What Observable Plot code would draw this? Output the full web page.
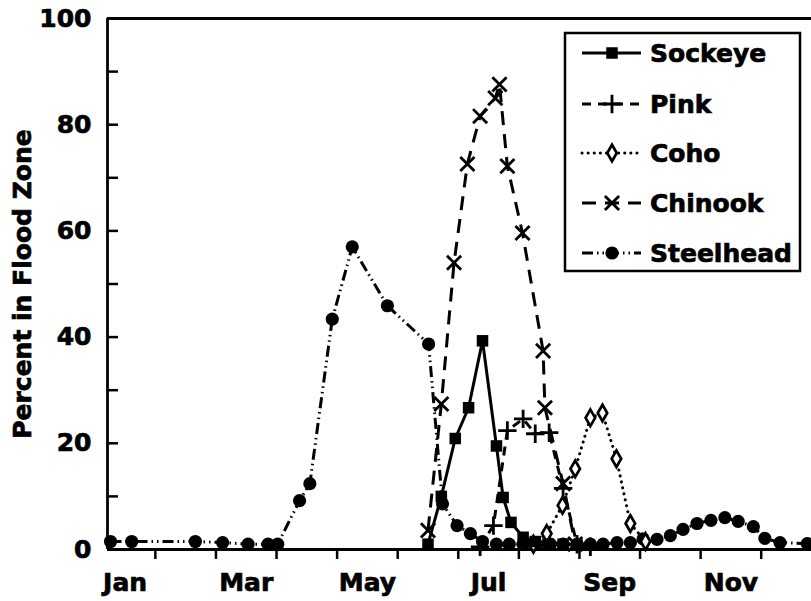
<!DOCTYPE html>
<html>
<head>
<meta charset="utf-8">
<script src="https://cdn.jsdelivr.net/npm/d3@7"></script>
<script src="https://cdn.jsdelivr.net/npm/@observablehq/plot@0.6"></script>
<style>
  html, body { margin: 0; padding: 0; background: #fff; }
  #chart { width: 811px; height: 601px; }
  /* heavier lettering for all labels */
  #chart svg text { stroke: black; stroke-width: 0.7px; }
</style>
</head>
<body>
<div id="chart"></div>
<script>
// Time runs in fractional months: 0 = 1 Jan, 1 = 1 Feb, ... 11 = 1 Dec.
const monthTicks = [1, 2, 3, 4, 5, 6, 7, 8, 9, 10, 11];
const monthLabels = ["Jan", "Mar", "May", "Jul", "Sep", "Nov"];
const monthLabelPos = [0.5, 2.5, 4.5, 6.5, 8.5, 10.5];
const percentTicks = [0, 20, 40, 60, 80, 100];
const percentMinorTicks = [10, 30, 50, 70, 90];

// Percent of each run in the flood zone, by sampling date
const sockeyeMonth = [5.50, 5.72, 5.95, 6.17, 6.40, 6.63, 6.74, 6.87, 7.07, 7.27, 7.48, 7.73, 7.96];
const sockeyePct   = [1.0, 10.0, 20.9, 26.7, 39.3, 19.5, 9.8, 5.1, 2.3, 1.5, 1.0, 1.0, 0.8];

const pinkMonth = [6.36, 6.58, 6.81, 7.07, 7.27, 7.50, 7.73, 7.96, 8.18];
const pinkPct   = [0.5, 4.5, 22.4, 24.6, 21.8, 22.0, 11.5, 1.0, 0.5];

const cohoMonth = [7.24, 7.46, 7.72, 7.93, 8.18, 8.38, 8.61, 8.84, 9.09];
const cohoPct   = [1.0, 3.0, 8.3, 15.2, 24.8, 25.7, 17.1, 4.9, 1.5];

const chinookMonth = [5.50, 5.72, 5.93, 6.15, 6.36, 6.61, 6.68, 6.81, 7.06, 7.40, 7.43, 7.73, 7.93];
const chinookPct   = [3.6, 27.4, 54.0, 72.6, 81.6, 85.0, 87.6, 72.2, 59.6, 37.4, 26.7, 12.4, 1.0];

const steelheadMonth = [0.26, 0.61, 1.66, 2.11, 2.53, 2.86, 3.02, 3.38, 3.55, 3.92, 4.25, 4.83, 5.51,
  5.74, 5.98, 6.20, 6.40, 6.63, 6.84, 7.07, 7.29, 7.52, 7.73, 7.96, 8.18, 8.39, 8.62, 8.84,
  9.05, 9.28, 9.50, 9.71, 9.94, 10.17, 10.40, 10.62, 10.87, 11.06, 11.31, 11.76];
const steelheadPct = [1.5, 1.5, 1.5, 1.3, 1.0, 1.0, 1.0, 9.2, 12.4, 43.4, 57.0, 45.9, 38.7,
  8.6, 4.5, 3.0, 1.5, 1.0, 1.0, 1.0, 1.0, 1.0, 1.0, 1.0, 1.0, 1.0, 1.3, 1.3,
  2.0, 1.9, 2.6, 3.8, 4.9, 5.5, 6.0, 5.3, 4.3, 2.1, 1.3, 1.1];

const speciesNames = ["Sockeye", "Pink", "Coho", "Chinook", "Steelhead"];

// Line and marker style for each species
const styles = {
  Sockeye:   {dash: null,                 symbol: "square",  r: 6.5, fill: "black", stroke: "none",  sw: 0},
  Pink:      {dash: "9,7",                symbol: "plus",    r: 6,   fill: "none",  stroke: "black", sw: 2.8},
  Coho:      {dash: "0.1,6",              symbol: "diamond", r: 5,   fill: "white", stroke: "black", sw: 2.7},
  Chinook:   {dash: "14,9",               symbol: "times",   r: 6.5, fill: "none",  stroke: "black", sw: 2.8},
  Steelhead: {dash: "11,4,1.5,4,1.5,4",   symbol: "circle",  r: 6.6, fill: "black", stroke: "none",  sw: 0}
};

const seriesData = {
  Sockeye: sockeyeMonth.map((m, i) => ({month: m, pct: sockeyePct[i]})),
  Pink: pinkMonth.map((m, i) => ({month: m, pct: pinkPct[i]})),
  Coho: cohoMonth.map((m, i) => ({month: m, pct: cohoPct[i]})),
  Chinook: chinookMonth.map((m, i) => ({month: m, pct: chinookPct[i]})),
  Steelhead: steelheadMonth.map((m, i) => ({month: m, pct: steelheadPct[i]}))
};

const fontFamily = "'DejaVu Sans', 'Liberation Sans', sans-serif";
const font = {fontFamily, fontWeight: "bold", fontSize: 25};
const xDomain = [0.21, 11.83];

const lineMarks = [];
const dotMarks = [];
for (const name of ["Steelhead", "Chinook", "Pink", "Coho", "Sockeye"]) {
  const s = styles[name];
  lineMarks.push(Plot.line(seriesData[name], {
    x: "month", y: "pct", stroke: "black", strokeWidth: 3,
    strokeDasharray: s.dash, strokeLinecap: name === "Coho" ? "round" : "butt",
    strokeLinejoin: "round"
  }));
  dotMarks.push(Plot.dot(seriesData[name], {
    x: "month", y: "pct", symbol: s.symbol, r: s.r,
    fill: s.fill, stroke: s.stroke, strokeWidth: s.sw
  }));
}

const plot = Plot.plot({
  width: 811,
  height: 601,
  marginLeft: 107,
  marginRight: 0,
  marginTop: 18,
  marginBottom: 52,
  x: {domain: xDomain, label: null},
  y: {domain: [0, 100], label: null},
  style: {fontFamily, fontWeight: "bold", fontSize: "25px", background: "white", color: "black", overflow: "visible"},
  marks: [
    Plot.axisX({ticks: monthTicks, tickSize: 10, tickFormat: () => "", strokeWidth: 2.5, label: null}),
    Plot.axisX({ticks: monthLabelPos, tickSize: 0, tickPadding: 24,
      tickFormat: d => monthLabels[monthLabelPos.indexOf(d)], label: null, ...font}),
    Plot.axisY({ticks: percentTicks, tickSize: 0, tickPadding: 16, label: null, ...font}),
    Plot.tickY([...percentTicks, ...percentMinorTicks], {y: d => d, insetRight: 693, strokeWidth: 2.5}),
    Plot.ruleY([0, 100], {strokeWidth: 2.8}),
    Plot.ruleX([xDomain[0]], {strokeWidth: 2.8}),
    ...lineMarks,
    ...dotMarks,
    Plot.text(["Percent in Flood Zone"], {
      frameAnchor: "left", rotate: -90, dx: -85, textAnchor: "middle", lineAnchor: "middle", ...font
    })
  ]
});

// Legend box in the upper right of the plotting area
const svg = d3.select(plot);
const legend = svg.append("g")
  .attr("font-family", fontFamily)
  .attr("font-weight", "bold")
  .attr("font-size", 25)
  .attr("text-anchor", "start");
legend.append("rect")
  .attr("x", 565).attr("y", 33).attr("width", 235).attr("height", 238)
  .attr("fill", "white").attr("stroke", "black").attr("stroke-width", 2.5);

const legendRowY = [53, 104, 153, 203, 253];
const symbolTypes = {
  square: d3.symbolSquare, plus: d3.symbolPlus, diamond: d3.symbolDiamond,
  times: d3.symbolTimes, circle: d3.symbolCircle
};
speciesNames.forEach((name, i) => {
  const s = styles[name];
  const y = legendRowY[i];
  legend.append("line")
    .attr("x1", 582).attr("x2", 641).attr("y1", y).attr("y2", y)
    .attr("stroke", "black").attr("stroke-width", 3)
    .attr("stroke-dasharray", s.dash)
    .attr("stroke-linecap", name === "Coho" ? "round" : "butt");
  legend.append("path")
    .attr("transform", `translate(612,${y})`)
    .attr("d", d3.symbol(symbolTypes[s.symbol], Math.PI * s.r * s.r)())
    .attr("fill", s.fill).attr("stroke", s.stroke).attr("stroke-width", s.sw);
  legend.append("text")
    .attr("x", 650).attr("y", y).attr("dy", "0.35em")
    .attr("fill", "black")
    .attr("text-anchor", "start")
    .text(name);
});

document.getElementById("chart").appendChild(plot);
</script>
</body>
</html>
